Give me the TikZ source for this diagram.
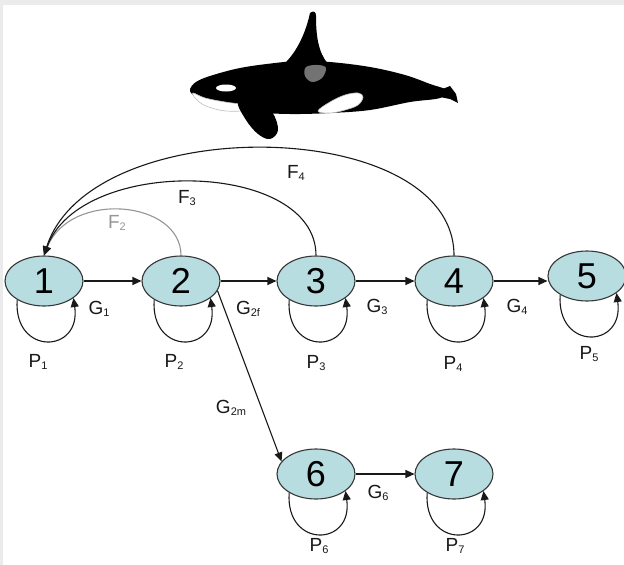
\documentclass[tikz,border=0pt]{standalone}
\usepackage{fontspec}
\setmainfont{Liberation Sans}
\usetikzlibrary{arrows.meta,shapes.geometric}
\definecolor{stagefill}{RGB}{183,221,225}
\definecolor{stageline}{RGB}{55,55,55}
\definecolor{fadegray}{RGB}{150,150,150}
\tikzstyle{every node}=[inner sep=0pt]
\tikzstyle{stage}=[ellipse,draw=stageline,line width=1.1pt,fill=stagefill,minimum width=78pt,minimum height=50pt,font=\fontsize{36}{36}\selectfont]
\tikzstyle{rate}=[font=\fontsize{19}{19}\selectfont,text=black!90]
\tikzstyle{flow}=[-{Triangle[length=9pt,width=8pt]},line width=1.1pt,draw=black!90]
\newcommand{\lsub}[1]{\raisebox{-0.15ex}{\fontsize{11}{11}\selectfont #1}}

\begin{document}
\begin{tikzpicture}[x=1pt,y=-1pt]
    \useasboundingbox (0,0) rectangle (624,565);
    \fill[white] (0,0) rectangle (624,565);
    \fill[black!8] (0,0) rectangle (624,5);
    \fill[black!8] (0,0) rectangle (3,565);
    % orca
    \fill[black] plot[smooth cycle,tension=0.6] coordinates {(190,89) (196,82) (210,76) (240,68) (275,63) (300,61) (330,62) (370,67) (405,75) (430,84) (446,90) (440,98) (410,102) (370,110) (330,113) (290,114) (250,112) (220,107) (200,100) (192,94)};
    \fill[black] (440,90) -- (450,86) -- (456,94) -- (458,103) -- (450,99) -- (440,97) -- cycle;
    \fill[black] (284,64) .. controls (297,52) and (306,32) .. (310,13) .. controls (314,10) and (316,12) .. (316,16) .. controls (316,35) and (318,52) .. (328,64) -- cycle;
    \fill[white,draw=black!25,line width=0.6pt] plot[smooth cycle,tension=0.6] coordinates {(193,93) (205,98) (225,102) (245,105) (252,110) (226,111) (206,106) (196,99)};
    \fill[white] (226,88) ellipse (10 and 3.5);
    \fill[black!55] plot[smooth cycle,tension=0.6] coordinates {(306,67) (318,65) (326,68) (322,78) (312,82) (305,76)};
    \fill[white,draw=black!25,line width=0.6pt] plot[smooth cycle,tension=0.6] coordinates {(318,111) (330,102) (345,95) (358,93) (363,97) (358,105) (345,110) (330,113)};
    \fill[black] plot[smooth cycle,tension=0.6] coordinates {(238,102) (255,100) (272,112) (278,130) (270,139) (258,134) (246,120)};
    % stages
    \node[stage] (s1) at (44,281) {1};
    \node[stage] (s2) at (181,281) {2};
    \node[stage] (s3) at (316,281) {3};
    \node[stage] (s4) at (454,281) {4};
    \node[stage] (s5) at (587,276) {5};
    \node[stage] (s6) at (316,474) {6};
    \node[stage] (s7) at (454,474) {7};
    % growth
    \draw[flow] (s1) -- (s2);
    \draw[flow] (s2) -- (s3);
    \draw[flow] (s3) -- (s4);
    \draw[flow] (s4.east) -- (s5.west |- s4.east);
    \draw[flow] (s2.345) -- (s6.160);
    \draw[flow] (s6) -- (s7);
    % survival loops
    \foreach \s in {s1,s2,s3,s4,s5,s6,s7}
        \draw[flow] (\s.215) .. controls +(-4,56) and +(8,56) .. (\s.330);
    % fecundity
    \draw[flow,draw=fadegray] (s2.north) .. controls (181,200) and (70,190) .. (s1.north);
    \draw[flow] (s3.north) .. controls (316,160) and (80,155) .. (s1.north);
    \draw[flow] (s4.north) .. controls (454,115) and (90,110) .. (s1.north);
    % labels
    \node[rate] (g1) at (99,309) {G\lsub{1}};
    \node[rate] (g2f) at (248,309) {G\lsub{2f}};
    \node[rate] (g3) at (377,307) {G\lsub{3}};
    \node[rate] (g4) at (517,307) {G\lsub{4}};
    \node[rate] (g2m) at (231,408) {G\lsub{2m}};
    \node[rate] (g6) at (378,493) {G\lsub{6}};
    \node[rate] (p1) at (38,362) {P\lsub{1}};
    \node[rate] (p2) at (174,362) {P\lsub{2}};
    \node[rate] (p3) at (316,363) {P\lsub{3}};
    \node[rate] (p4) at (453,364) {P\lsub{4}};
    \node[rate] (p5) at (589,354) {P\lsub{5}};
    \node[rate] (p6) at (319,546) {P\lsub{6}};
    \node[rate] (p7) at (455,546) {P\lsub{7}};
    \node[rate,text=fadegray] (f2) at (117,223) {F\lsub{2}};
    \node[rate] (f3) at (187,198) {F\lsub{3}};
    \node[rate] (f4) at (296,173) {F\lsub{4}};
\end{tikzpicture}
\end{document}
